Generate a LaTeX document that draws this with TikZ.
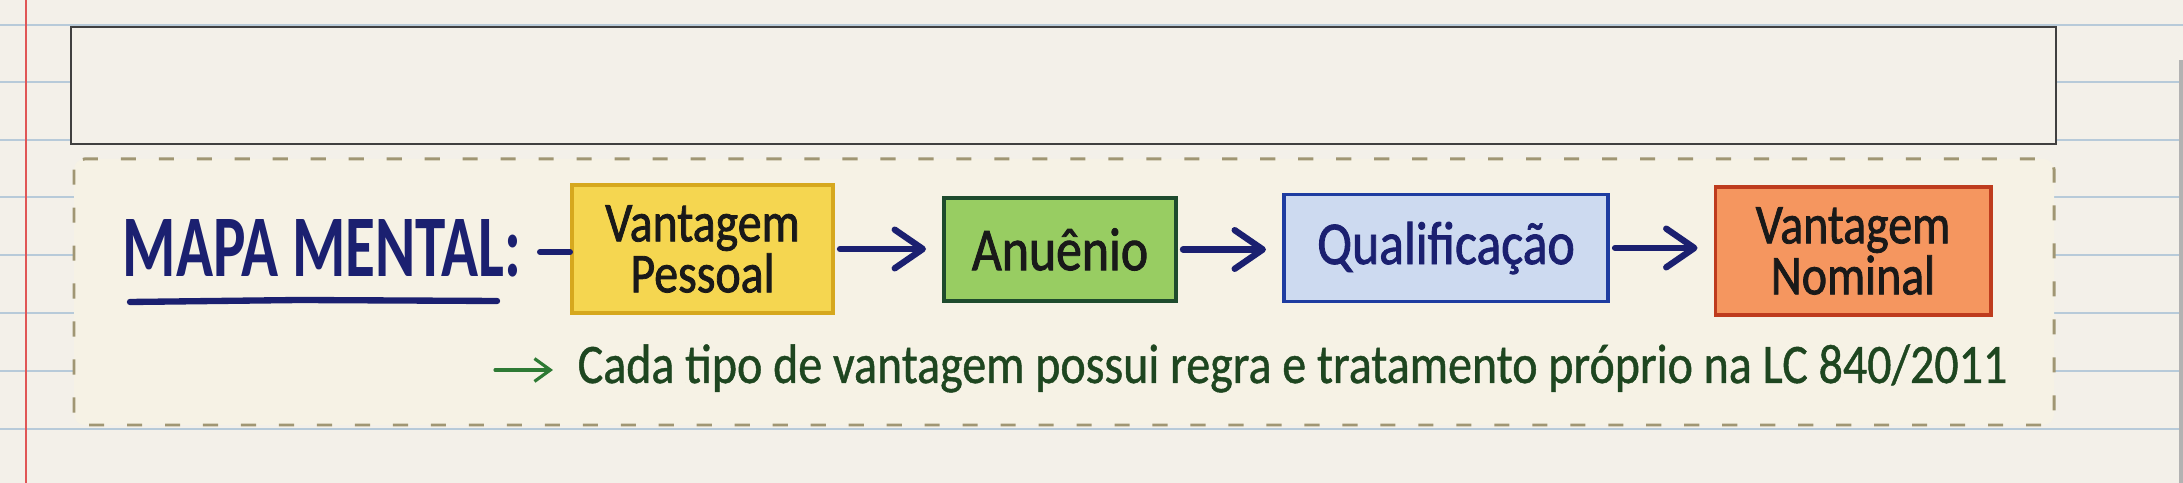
\documentclass[tikz,border=0pt]{standalone}
\usepackage{fontspec}
\usetikzlibrary{arrows.meta}
\newfontfamily\handfont[FakeStretch=0.86,FakeBold=0.8]{Carlito}
\newfontfamily\handbold[FakeStretch=0.85,FakeBold=1.4]{Carlito}
\newfontfamily\titlefont[FakeStretch=0.695]{Carlito Bold}

\definecolor{paper}{HTML}{F3F0E9}
\definecolor{panel}{HTML}{F6F2E5}
\definecolor{ruling}{HTML}{B7CAD9}
\definecolor{margin}{HTML}{E05656}
\definecolor{dashtan}{HTML}{A09673}
\definecolor{navy}{HTML}{1B2070}
\definecolor{inkgreen}{HTML}{1E4620}
\definecolor{arrowgreen}{HTML}{2E7A34}
\definecolor{yelfill}{HTML}{F5D650}
\definecolor{yeldraw}{HTML}{D6A81E}
\definecolor{grnfill}{HTML}{98CD62}
\definecolor{grndraw}{HTML}{1E4B2D}
\definecolor{blufill}{HTML}{CDDAF0}
\definecolor{bludraw}{HTML}{1E3CA0}
\definecolor{orgfill}{HTML}{F5965F}
\definecolor{orgdraw}{HTML}{BE3C1E}

\tikzset{
	rule/.style={line width=0.45pt, color=ruling},
	vbox/.style={draw, line width=1.1pt, inner sep=0pt, align=center, text=black!90,
		font={\handbold\fontsize{16pt}{14.5pt}\selectfont}},
	bigbox/.style={vbox, font={\handbold\fontsize{17.3pt}{17pt}\selectfont}},
	flow/.style={line width=1.8pt, color=navy, line cap=round, line join=round,
		-{Straight Barb[length=8pt,width=11pt,round]}, shorten <=0.05cm, shorten >=0.16cm}
}

\begin{document}
\begin{tikzpicture}[x=0.01cm, y=-0.01cm]
			%%%%% START %%%%%
			\useasboundingbox (0,0) rectangle (2183,483);
			\fill[paper] (0,0) rectangle (2183,483);
			
			\draw[rule] (0, 25) -- (2183, 25);
			\draw[rule] (0, 82) -- (2183, 82);
			\draw[rule] (0, 140) -- (2183, 140);
			\draw[rule] (0, 197) -- (2183, 197);
			\draw[rule] (0, 255) -- (2183, 255);
			\draw[rule] (0, 313) -- (2183, 313);
			\draw[rule] (0, 371) -- (2183, 371);
			\draw[rule] (0, 429) -- (2183, 429);
			
			\draw[line width=0.6pt, color=margin] (26, 0) -- (26, 483);
			\draw[line width=1.2pt, color=black!30] (2181, 60) -- (2181, 483);
			
			\draw[line width=0.7pt, color=black!75, fill=paper] (71, 27) rectangle (2056, 144);
			\draw[line width=0.85pt, color=dashtan, fill=panel, rounded corners=3pt,
				dash pattern=on 4.3pt off 6.5pt] (74, 159) rectangle (2054, 425);
			
			\node[anchor=base west, inner sep=0pt, text=navy,
				font={\titlefont\fontsize{25pt}{25pt}\selectfont}] (titulo) at (122, 277) {MAPA MENTAL:};
			\draw[line width=1.8pt, color=navy, line cap=round] (130, 302) -- (300, 300) -- (497, 301);
			
			\node[vbox, draw=yeldraw, fill=yelfill, minimum width=2.61cm, minimum height=1.28cm] (pessoal) at (702.5, 249) {Vantagem\\Pessoal};
			\node[bigbox, draw=grndraw, fill=grnfill, minimum width=2.32cm, minimum height=1.03cm] (anuenio) at (1060, 249.5) {Anuênio};
			\node[bigbox, draw=bludraw, fill=blufill, text=navy, minimum width=3.24cm, minimum height=1.07cm] (qualif) at (1446, 248) {Qualificação};
			\node[vbox, draw=orgdraw, fill=orgfill, minimum width=2.75cm, minimum height=1.28cm] (nominal) at (1853, 251) {Vantagem\\Nominal};
			
			\coordinate (lead) at (540, 252);
			\draw[line width=1.7pt, color=navy, line cap=round] (lead) -- (lead -| pessoal.west);
			
			\draw[flow] (pessoal.east) -- (pessoal.east -| anuenio.west);
			\draw[flow] (anuenio.east) -- (anuenio.east -| qualif.west);
			\draw[flow] (qualif.east) -- (qualif.east -| nominal.west);
			
			\node[anchor=base west, inner sep=0pt, text=inkgreen,
				font={\handfont\fontsize{15.85pt}{16pt}\selectfont}] (regra) at (577, 383)
				{Cada tipo de vantagem possui regra e tratamento próprio na LC 840/2011};
			\coordinate (nota) at (495, 370);
			\draw[line width=0.9pt, color=arrowgreen, line cap=round, shorten >=0.24cm,
				-{Straight Barb[length=4.5pt,width=6.5pt]}] (nota) -- (nota -| regra.west);
			%%%%% END %%%%%
\end{tikzpicture}
\end{document}
